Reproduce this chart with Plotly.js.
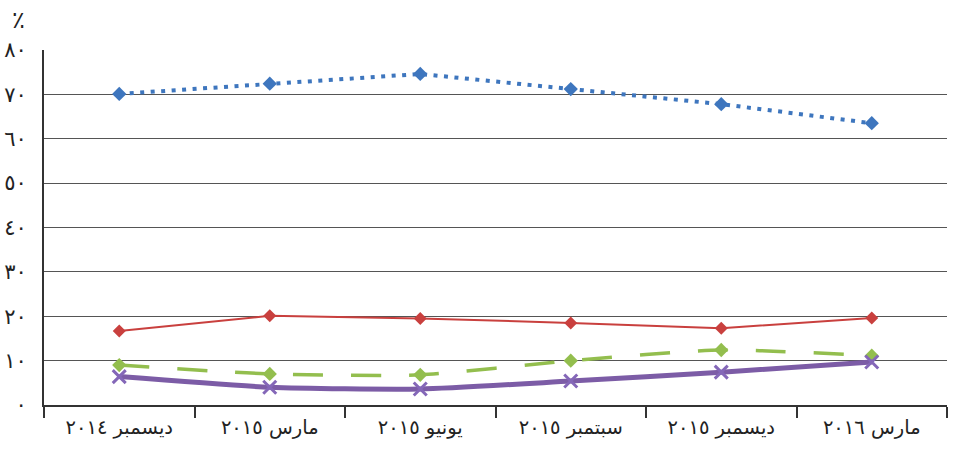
<!DOCTYPE html>
<html>
<head>
<meta charset="utf-8">
<script src="https://cdn.plot.ly/plotly-3.0.1.min.js"></script>
<style>html,body{margin:0;padding:0;background:#fff;}#chart{width:957px;height:449px;}</style>
</head>
<body>
<div id="chart"></div>
<script>
const categories = ["ديسمبر ٢٠١٤", "مارس ٢٠١٥", "يونيو ٢٠١٥", "سبتمبر ٢٠١٥", "ديسمبر ٢٠١٥", "مارس ٢٠١٦"];
const seriesBlue = [70.1, 72.4, 74.6, 71.2, 67.8, 63.5];
const seriesRed = [16.7, 20.1, 19.5, 18.5, 17.3, 19.6];
const seriesGreen = [9.0, 7.0, 6.8, 10.0, 12.4, 11.1];
const seriesPurple = [6.4, 4.0, 3.6, 5.4, 7.4, 9.7];
const yTickVals = [0, 10, 20, 30, 40, 50, 60, 70, 80];
const yTickText = ["٠", "١٠", "٢٠", "٣٠", "٤٠", "٥٠", "٦٠", "٧٠", "٨٠"];
const unitLabel = "٪";

const font = "DejaVu Sans, sans-serif";
const traces = [
  {x: categories, y: seriesBlue, type: "scatter", mode: "lines+markers",
   line: {color: "#3E76BE", width: 4, dash: "4px,6.5px"},
   marker: {symbol: "diamond", size: 11, color: "#3E76BE"}},
  {x: categories, y: seriesRed, type: "scatter", mode: "lines+markers",
   line: {color: "#C9403E", width: 2},
   marker: {symbol: "diamond", size: 10, color: "#C9403E"}},
  {x: categories, y: seriesGreen, type: "scatter", mode: "lines+markers",
   line: {color: "#93BE4E", width: 3.5, dash: "30px,28px", shape: "spline", smoothing: 0.6},
   marker: {symbol: "diamond", size: 11, color: "#93BE4E"}},
  {x: categories, y: seriesPurple, type: "scatter", mode: "lines+markers",
   line: {color: "#7C5CA6", width: 5, shape: "spline", smoothing: 0.6},
   marker: {symbol: "x-thin", size: 13, line: {color: "#8467B8", width: 3}}}
];
const layout = {
  width: 957, height: 449,
  margin: {l: 44, r: 10, t: 49.5, b: 44},
  paper_bgcolor: "#fff", plot_bgcolor: "#fff",
  showlegend: false,
  font: {family: font, color: "#222"},
  xaxis: {
    type: "category", tickson: "boundaries", ticks: "outside", ticklen: 11,
    tickwidth: 2, tickcolor: "#333", showline: true, linewidth: 2, linecolor: "#333",
    showgrid: false, tickfont: {size: 19.5, family: font, color: "#222"},
    ticklabelstandoff: 4,
    range: [-0.5, 5.5]
  },
  yaxis: {
    range: [0, 80], tickvals: yTickVals, ticktext: yTickText,
    showgrid: true, gridcolor: "#555", gridwidth: 1, zeroline: false,
    showline: true, linewidth: 2, linecolor: "#333", ticks: "",
    ticklabelstandoff: 11,
    tickfont: {size: 21, family: font, color: "#222"}
  },
  annotations: [
    {text: unitLabel, xref: "paper", yref: "paper", x: -0.028, y: 1.085,
     xanchor: "center", yanchor: "middle", showarrow: false,
     font: {size: 24, family: font, color: "#222"}}
  ]
};
Plotly.newPlot("chart", traces, layout, {staticPlot: true});
</script>
</body>
</html>
